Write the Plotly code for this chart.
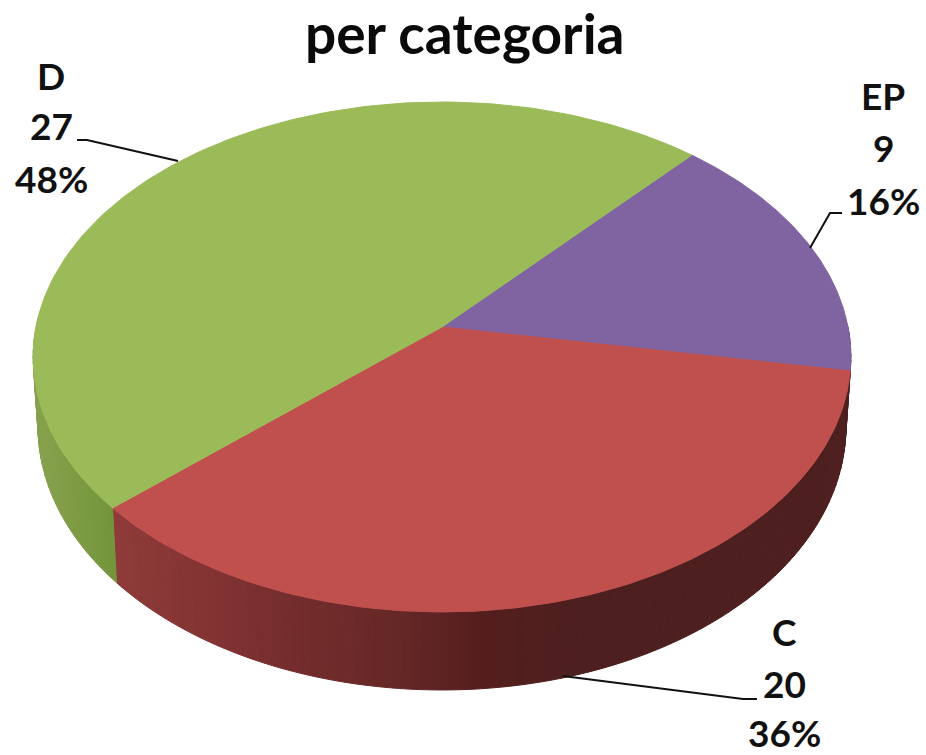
import math
import numpy as np
import plotly.graph_objects as go

# --- data ---
categories = ["EP", "C", "D"]
values = [9, 20, 27]
title_text = "per categoria"

# --- styling / projection constants ---
top_colors = ["#8064a2", "#c0504d", "#9bbb59"]
start_deg = 42.0
APEX_X, APEX_Y = 442.0, 327.0
PERSP = 0.1176
A_X, A_Y = 406.0, 213.0
DEPTH = 78.0
BOTTOM_SCALE = 0.988
side_stops_x = [30, 112, 200, 300, 400, 480, 570, 860]
side_red = [(0x8f, 0x3b, 0x3a), (0x8f, 0x3b, 0x3a), (0x84, 0x34, 0x33), (0x73, 0x2c, 0x2c),
            (0x66, 0x27, 0x27), (0x54, 0x1e, 0x1d), (0x4e, 0x1f, 0x1f), (0x4e, 0x1f, 0x1f)]
side_green_x = [30, 60, 118]
side_green = [(0x86, 0xa2, 0x4c), (0x82, 0x9e, 0x48), (0x72, 0x94, 0x3a)]
side_purple = (0x50, 0x3c, 0x6a)


def project(theta_deg, bottom=False):
    t = np.radians(theta_deg)
    u, v = np.sin(t), np.cos(t)
    w = 1 + PERSP * v
    x = A_X * u / w
    y = (-A_Y * v + APEX_Y) / w
    if bottom:
        return APEX_X + x * BOTTOM_SCALE, y + DEPTH * (1 - PERSP) / w
    return APEX_X + x, y


def lerp_color(x, xs, cols):
    return "rgb(%d,%d,%d)" % tuple(
        int(round(np.interp(x, xs, [c[i] for c in cols]))) for i in range(3)
    )


total = sum(values)
edges = [start_deg]
for val in values:
    edges.append(edges[-1] + 360.0 * val / total)

fig = go.Figure()

# side wall, only for the front half of the disc
for i, cat in enumerate(categories):
    a0, a1 = edges[i], edges[i + 1]
    lo, hi = max(a0, 90.0), min(a1, 272.0)
    if hi <= lo:
        continue
    cuts = np.linspace(lo, hi, max(2, int((hi - lo) / 1.2) + 1))
    for s0, s1 in zip(cuts[:-1], cuts[1:]):
        arc = np.linspace(s0, s1, 3)
        tx, ty = project(arc)
        bx, by = project(arc[::-1], bottom=True)
        px = np.concatenate([tx, bx, tx[:1]])
        py = np.concatenate([ty, by, ty[:1]])
        xm = float(np.mean(px))
        if cat == "C":
            col = lerp_color(xm, side_stops_x, side_red)
        elif cat == "D":
            col = lerp_color(xm, side_green_x, side_green)
        else:
            col = "rgb(%d,%d,%d)" % side_purple
        fig.add_trace(go.Scatter(x=px, y=py, mode="lines", fill="toself", fillcolor=col,
                                 line=dict(color=col, width=1), hoverinfo="skip", showlegend=False))

# top face wedges
for i, cat in enumerate(categories):
    arc = np.linspace(edges[i], edges[i + 1], 160)
    ax_, ay_ = project(arc)
    px = np.concatenate([[APEX_X], ax_, [APEX_X]])
    py = np.concatenate([[APEX_Y], ay_, [APEX_Y]])
    fig.add_trace(go.Scatter(x=px, y=py, mode="lines", fill="toself", fillcolor=top_colors[i],
                             line=dict(color=top_colors[i], width=1), name=cat,
                             text=f"{cat}: {values[i]}", hoverinfo="text", showlegend=False))

# data labels
label_pos = {"EP": (883, [95, 147, 200]), "C": (784, [631, 683, 732]), "D": (51, [75, 125, 178])}
for cat, val in zip(categories, values):
    x0, ys = label_pos[cat]
    pct = f"{round(100 * val / total)}%"
    for txt, yy in zip([cat, str(val), pct], ys):
        fig.add_annotation(x=x0, y=yy, xref="x", yref="y", text=f"<b>{txt}</b>", showarrow=False,
                           xanchor="center", yanchor="middle",
                           font=dict(family="Lato", size=37, color="#111111"))

fig.add_annotation(x=465, y=33, xref="x", yref="y", text=f"<b>{title_text}</b>", showarrow=False,
                   xanchor="center", yanchor="middle",
                   font=dict(family="Lato", size=55, color="#0a0a0a"))

# leader lines
leaders = [
    ("M 77 140 L 87 140 L 178 161"),
    ("M 842 213 L 830 213 L 810 248"),
    ("M 757 699 L 743 699 L 563 676"),
]
shapes = [dict(type="path", path=p, xref="x", yref="y", line=dict(color="#111111", width=2),
               layer="above") for p in leaders]

fig.update_layout(
    width=926, height=755, autosize=False,
    margin=dict(l=0, r=0, t=0, b=0),
    paper_bgcolor="white", plot_bgcolor="white",
    xaxis=dict(range=[0, 926], visible=False, fixedrange=True),
    yaxis=dict(range=[755, 0], visible=False, fixedrange=True),
    shapes=shapes, showlegend=False,
)
fig.write_html("out.html", post_script="document.body.style.margin='0';document.documentElement.style.overflow='hidden';",
               config=dict(displayModeBar=False))
